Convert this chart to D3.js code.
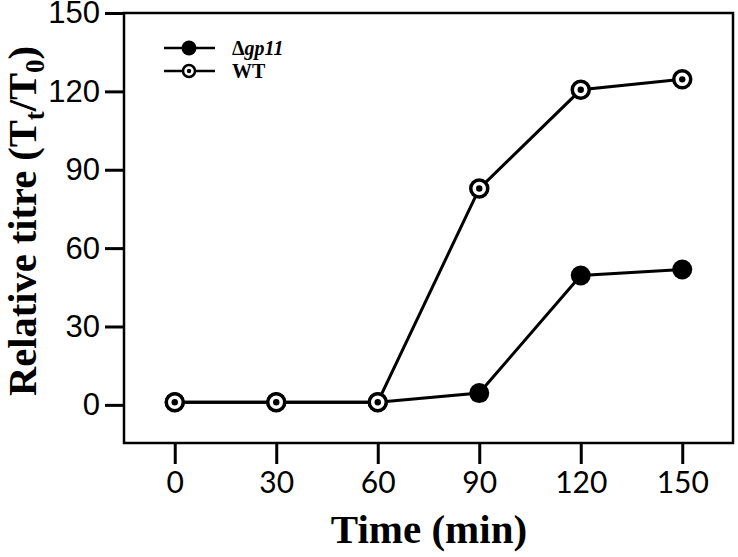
<!DOCTYPE html>
<html>
<head>
<meta charset="utf-8">
<script src="https://cdn.jsdelivr.net/npm/d3@7"></script>
<style>
  body { margin: 0; background: #fff; }
  svg { display: block; }
</style>
</head>
<body>
<div id="wrapper"></div>
<script>
// data
const times = [0, 30, 60, 90, 120, 150]
const gp11Values = [1, 1, 1, 4.5, 49.5, 51.8]
const wtValues = [1, 1, 1, 82.8, 120.6, 124.6]
const xTicks = [0, 30, 60, 90, 120, 150]
const yTicks = [0, 30, 60, 90, 120, 150]

function drawPlot() {
    const width = 738
    const height = 557
    const frame = { left: 124, right: 733, top: 13, bottom: 443 }

    const svg = d3.select('#wrapper')
        .append('svg')
        .attr('width', width)
        .attr('height', height)

    //! scales
    const xScale = d3.scaleLinear()
        .domain([-15, 165])
        .range([frame.left, frame.right])
    const yScale = d3.scaleLinear()
        .domain([-14.6, 150])
        .range([frame.bottom, frame.top])

    //! frame
    svg.append('rect')
        .attr('x', frame.left)
        .attr('y', frame.top)
        .attr('width', frame.right - frame.left)
        .attr('height', frame.bottom - frame.top)
        .attr('fill', 'none')
        .attr('stroke', 'black')
        .attr('stroke-width', 2.5)

    //! axes
    const yAxis = svg.append('g')
        .attr('transform', `translate(${frame.left},0)`)
        .call(d3.axisLeft(yScale).tickValues(yTicks).tickSize(19).tickPadding(5))
    yAxis.select('.domain').remove()
    yAxis.selectAll('line').attr('stroke-width', 3)
    yAxis.selectAll('text')
        .style('font-family', '"Liberation Sans", Arial, sans-serif')
        .style('font-size', '31px')
        .attr('fill', 'black')

    const xAxis = svg.append('g')
        .attr('transform', `translate(0,${frame.bottom})`)
        .call(d3.axisBottom(xScale).tickValues(xTicks).tickSize(21).tickPadding(8))
    xAxis.select('.domain').remove()
    xAxis.selectAll('line').attr('stroke-width', 3)
    xAxis.selectAll('text')
        .style('font-family', 'Lato, "Open Sans", sans-serif')
        .style('font-size', '30px')
        .attr('fill', 'black')

    //! axis titles
    svg.append('text')
        .attr('x', 429)
        .attr('y', 543)
        .attr('text-anchor', 'middle')
        .style('font-family', '"Liberation Serif", "Times New Roman", serif')
        .style('font-weight', 'bold')
        .style('font-size', '41px')
        .text('Time (min)')

    const yTitle = svg.append('text')
        .attr('transform', 'translate(36,221) rotate(-90)')
        .attr('text-anchor', 'middle')
        .style('font-family', '"Liberation Serif", "Times New Roman", serif')
        .style('font-weight', 'bold')
        .style('font-size', '40.5px')
    yTitle.append('tspan').text('Relative titre (T')
    yTitle.append('tspan').attr('dy', 8).style('font-size', '27px').text('t')
    yTitle.append('tspan').attr('dy', -8).text('/T')
    yTitle.append('tspan').attr('dy', 8).style('font-size', '27px').text('0')
    yTitle.append('tspan').attr('dy', -8).text(')')

    //! lines
    const line = d3.line()
        .x((d, i) => xScale(times[i]))
        .y(d => yScale(d))

    svg.append('path')
        .datum(gp11Values)
        .attr('d', line)
        .attr('fill', 'none')
        .attr('stroke', 'black')
        .attr('stroke-width', 3)
    svg.append('path')
        .datum(wtValues)
        .attr('d', line)
        .attr('fill', 'none')
        .attr('stroke', 'black')
        .attr('stroke-width', 3)

    //! markers
    svg.selectAll('.gp11')
        .data(gp11Values)
        .join('circle')
        .classed('gp11', true)
        .attr('cx', (d, i) => xScale(times[i]))
        .attr('cy', d => yScale(d))
        .attr('r', 10)
        .attr('fill', 'black')

    const wt = svg.selectAll('.wt')
        .data(wtValues)
        .join('g')
        .classed('wt', true)
        .attr('transform', (d, i) => `translate(${xScale(times[i])},${yScale(d)})`)
    wt.append('circle')
        .attr('r', 8.5)
        .attr('fill', 'white')
        .attr('stroke', 'black')
        .attr('stroke-width', 3.5)
    wt.append('circle')
        .attr('r', 3.2)
        .attr('fill', 'black')

    //! legend
    const legend = svg.append('g')
    const rows = [
        { y: 48, label: 'gp11', filled: true },
        { y: 71, label: 'WT', filled: false }
    ]
    rows.forEach(r => {
        legend.append('line')
            .attr('x1', 164).attr('x2', 215)
            .attr('y1', r.y).attr('y2', r.y)
            .attr('stroke', 'black')
            .attr('stroke-width', 2.5)
        if (r.filled) {
            legend.append('circle')
                .attr('cx', 189).attr('cy', r.y).attr('r', 7.5)
                .attr('fill', 'black')
        } else {
            legend.append('circle')
                .attr('cx', 189).attr('cy', r.y).attr('r', 6)
                .attr('fill', 'white').attr('stroke', 'black').attr('stroke-width', 2.5)
            legend.append('circle')
                .attr('cx', 189).attr('cy', r.y).attr('r', 2.2)
                .attr('fill', 'black')
        }
        const t = legend.append('text')
            .attr('x', 232)
            .attr('y', r.y + 7)
            .style('font-family', '"Liberation Serif", "Times New Roman", serif')
            .style('font-weight', 'bold')
            .style('font-size', '20px')
        if (r.filled) {
            t.append('tspan').text('\u0394')
            t.append('tspan').style('font-style', 'italic').text(r.label)
        } else {
            t.text(r.label)
        }
    })
}

drawPlot()
</script>
</body>
</html>
